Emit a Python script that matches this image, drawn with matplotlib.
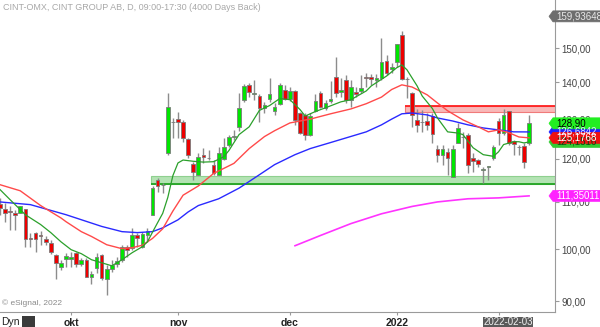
import matplotlib
matplotlib.use("Agg")
import matplotlib.pyplot as plt
from matplotlib.patches import Rectangle, Polygon
from matplotlib.ticker import FixedLocator, FuncFormatter, NullLocator
import numpy as np

plt.rcParams['font.family'] = ['Liberation Sans', 'DejaVu Sans']

# дневные свечи CINT (индекс -1 .. 103)
opens = [109.6, 108.5, 107.9, 107.6, 107.6, 108.5, 102.2, 103.4, 103.0, 102.1, 101.3,
         98.9, 96.5, 98.1, 98.1, 99.3, 97.1, 97.9, 94.6, 96.3, 98.9,
         94.2, 96.1, 97.1, 97.9, 100.5, 100.3, 103.0, 100.5, 103.0, 107.2,
         115.0, 113.9, 121.4, 129.3, 130.0, 129.3, 124.9, 118.8, 116.2, 121.0,
         120.3, 118.6, 116.2, 120.0, 123.5, 125.5, 128.0, 135.2, 139.3, 136.8,
         136.2, 133.0, 135.5, 132.2, 134.1, 137.9, 135.5, 137.6, 131.6, 131.1,
         126.0, 132.2, 137.1, 133.0, 134.9, 141.5, 137.3, 140.7, 135.2, 137.3,
         137.6, 141.5, 141.5, 140.7, 141.2, 146.2, 143.9, 145.8, 154.1, 141.0,
         137.1, 129.8, 129.3, 129.5, 130.8, 122.5, 120.8, 121.7, 115.7, 124.0,
         125.5, 126.0, 120.3, 119.8, 117.2, 118.1, 120.3, 129.5, 126.5, 132.2,
         124.5, 123.0, 123.2, 124.0]
highs = [110.9, 109.8, 109.0, 108.3, 109.2, 108.5, 103.4, 103.6, 103.8, 102.6, 101.9,
         99.1, 97.9, 99.3, 99.5, 99.5, 98.3, 98.3, 95.6, 99.3, 99.1,
         96.9, 97.9, 98.5, 100.9, 100.9, 104.4, 103.4, 103.6, 104.4, 113.5,
         115.5, 114.3, 137.1, 130.3, 132.0, 129.8, 125.2, 119.3, 121.4, 122.7,
         122.2, 119.8, 123.0, 125.2, 126.0, 127.2, 137.1, 139.6, 139.8, 140.7,
         136.8, 134.6, 141.3, 134.3, 139.8, 139.3, 138.7, 137.9, 131.9, 131.6,
         131.6, 136.8, 137.6, 135.2, 140.4, 147.4, 141.3, 142.1, 140.7, 138.7,
         142.1, 142.7, 142.4, 142.4, 153.1, 148.0, 145.6, 151.3, 155.3, 141.5,
         137.3, 132.7, 132.5, 131.6, 131.6, 123.5, 123.5, 122.7, 123.5, 129.0,
         126.7, 126.5, 121.4, 120.0, 118.1, 118.3, 123.5, 130.3, 132.7, 132.2,
         124.7, 123.5, 124.0, 131.1]
lows = [107.2, 105.7, 104.0, 104.0, 107.5, 100.5, 100.5, 99.5, 100.9, 100.9, 99.1,
        94.2, 95.9, 96.5, 96.5, 96.5, 96.7, 94.6, 93.3, 95.3, 94.0,
        91.2, 95.5, 96.5, 97.5, 98.5, 99.9, 100.5, 100.3, 101.5, 107.2,
        112.3, 112.1, 121.0, 125.2, 125.2, 124.2, 120.3, 115.0, 116.2, 119.1,
        119.8, 116.2, 116.2, 119.8, 123.0, 124.7, 127.0, 134.6, 136.0, 135.2,
        129.3, 131.6, 134.6, 131.1, 133.8, 135.2, 134.9, 128.5, 126.2, 124.7,
        125.7, 131.9, 133.0, 132.5, 134.3, 136.0, 136.0, 134.3, 133.3, 136.0,
        137.1, 138.7, 139.3, 138.7, 140.7, 142.1, 142.7, 144.4, 140.7, 135.7,
        128.0, 126.7, 126.7, 127.2, 124.0, 119.3, 118.6, 116.2, 115.7, 124.0,
        122.7, 116.7, 116.9, 118.1, 114.3, 115.0, 119.8, 123.5, 126.0, 123.5,
        121.0, 120.8, 117.9, 123.5]
closes = [108.7, 107.6, 107.8, 107.2, 109.0, 102.1, 102.1, 102.1, 102.6, 101.5, 99.5,
          97.3, 97.3, 98.7, 98.5, 97.1, 97.9, 94.6, 95.2, 98.5, 94.4,
          96.1, 96.9, 97.7, 100.5, 99.9, 103.0, 102.3, 103.2, 103.8, 113.2,
          113.5, 113.8, 133.3, 129.2, 129.3, 125.2, 121.0, 116.9, 120.5, 120.5,
          120.2, 116.7, 121.4, 123.0, 125.5, 125.6, 133.0, 139.0, 137.3, 136.9,
          133.0, 133.8, 136.8, 133.3, 139.3, 135.5, 137.6, 129.8, 126.5, 126.0,
          130.8, 134.9, 133.3, 134.3, 135.5, 137.1, 137.9, 135.2, 138.7, 136.8,
          138.4, 141.2, 141.0, 141.2, 145.9, 142.7, 144.4, 151.3, 141.0, 140.9,
          131.1, 128.5, 129.2, 128.5, 126.2, 120.8, 122.5, 120.3, 122.5, 127.7,
          125.4, 118.6, 119.5, 118.8, 117.6, 118.2, 123.0, 126.5, 131.1, 124.0,
          123.7, 122.9, 119.3, 128.9]
days = np.arange(-1, len(opens) - 1)

# скользящие средние (номер свечи, значение)
ma_green_x = [-1, 1, 3, 4, 7, 9, 11, 13, 15, 17, 19, 21, 23, 25, 27, 28, 29, 30, 31, 32, 33, 34, 35,
              37, 39, 41, 43, 44, 46, 48, 50, 52, 54, 56, 58, 59, 61, 63, 66, 68, 71, 72, 75, 77,
              78, 79, 81, 82, 84, 85, 87, 89, 90, 92, 94, 96, 97, 98, 100, 101, 102, 103]
ma_green_y = [112.8, 110.5, 108.3, 107.2, 105.1, 103.4, 101.5, 99.9, 99.1, 97.9, 97.3, 96.7, 97.9,
              99.3, 100.5, 101.5, 103.5, 105.5, 107.5, 111.0, 116.0, 119.0, 119.7,
              119.4, 119.2, 119.3, 120.5, 122.0, 126.0, 128.0, 132.3, 133.6, 135.5, 135.2, 132.5,
              130.8, 132.0, 133.0, 134.6, 135.2, 137.6, 139.0, 141.8, 144.2,
              145.0, 143.6, 139.0, 136.2, 132.8, 130.3, 126.7, 126.4, 126.0, 122.7, 121.0, 120.6,
              121.7, 123.5, 124.2, 124.2, 123.9, 124.15]
ma_red_x = [-1, 3, 7, 11, 12, 15, 17, 20, 23, 25, 27, 29, 31, 33, 35, 38, 41, 45, 48, 51, 53, 56,
            60, 64, 68, 71, 74, 76, 78, 80, 83, 85, 87, 90, 93, 95, 97, 99, 101, 103]
ma_red_y = [113.9, 112.5, 109.2, 106.5, 105.7, 103.6, 102.6, 100.9, 100.1, 100.3, 100.8, 102.2,
            104.2, 108.0, 111.5, 113.6, 116.5, 118.9, 122.5, 125.5, 127.0, 129.0,
            130.0, 131.4, 132.7, 134.1, 135.9, 138.0, 139.3, 138.7, 136.5, 134.3, 132.2, 129.8,
            128.0, 126.7, 127.2, 126.5, 125.4, 125.18]
ma_blue_x = [-1, 5, 12, 19, 23, 26, 29, 31, 34, 36, 38, 42, 46, 50, 53, 57, 60, 64, 71, 74, 76,
             78, 80, 83, 85, 88, 91, 94, 97, 100, 103]
ma_blue_y = [110.0, 109.4, 107.2, 104.7, 103.6, 103.4, 103.6, 104.4, 106.1, 107.8, 109.2, 110.7,
             113.1, 116.2, 118.6, 121.0, 122.5, 124.0, 126.7, 128.5, 130.0,
             131.4, 131.6, 131.1, 130.3, 129.5, 128.5, 127.7, 127.2, 126.7, 126.68]
ma_mag_x = [57, 62, 68, 74, 80, 85, 91, 97, 103]
ma_mag_y = [100.7, 102.8, 105.3, 107.4, 109.0, 110.0, 110.7, 110.9, 111.35]

# зоны поддержки и сопротивления
support_zone = (114.1, 116.0)
resist_zone = (131.9, 133.5)
support_start = 28.6
resist_start = 78.7

ytick_vals = [90, 100, 110, 120, 130, 140, 150]
xtick_days = [13, 34, 56, 77, 97]
xtick_labels = ['okt', 'nov', 'dec', '2022', '']

W, H = 600, 327
fig = plt.figure(figsize=(W / 100, H / 100), dpi=100)
ax = fig.add_axes([0, 15 / H, 555 / W, 312 / H])
ax.set_yscale('log')
ax.set_ylim(88.1, 165.3)
ax.set_xlim(-0.98, 108.1)

# зоны
x_end = 110
ax.add_patch(Rectangle((support_start, support_zone[0]), x_end - support_start,
                       support_zone[1] - support_zone[0], facecolor='#b3e3b3',
                       edgecolor='#8fd08f', lw=0.8, zorder=1))
ax.hlines(support_zone[0], support_start, x_end, color='#22a322', lw=1.3, zorder=1.5)
ax.add_patch(Rectangle((resist_start, resist_zone[0]), x_end - resist_start,
                       resist_zone[1] - resist_zone[0], facecolor='#f8b8b8',
                       edgecolor='#f07a7a', lw=0.8, zorder=1))
ax.hlines(resist_zone[1], resist_start, x_end, color='#ff2020', lw=1.3, zorder=1.5)

# свечи
o = np.array(opens)
c = np.array(closes)
up = c >= o
ax.vlines(days, lows, highs, color='#8c8c8c', lw=1.0, zorder=3)
body_lo = np.minimum(o, c)
body_h = np.maximum(np.abs(c - o), 0.08)
ax.bar(days[up], body_h[up], bottom=body_lo[up], width=0.72, color='#00e600',
       edgecolor='#7a7a7a', lw=0.6, zorder=3.5)
ax.bar(days[~up], body_h[~up], bottom=body_lo[~up], width=0.72, color='#ee0000',
       edgecolor='#7a7a7a', lw=0.6, zorder=3.5)

# средние
ax.plot(ma_mag_x, ma_mag_y, color='#ff33ff', lw=1.2, zorder=4)
ax.plot(ma_blue_x, ma_blue_y, color='#2a2aff', lw=1.0, zorder=4)
ax.plot(ma_red_x, ma_red_y, color='#ff4a4a', lw=1.0, zorder=4)
ax.plot(ma_green_x, ma_green_y, color='#2ba02b', lw=0.9, zorder=4)

# оси
for s in ['left', 'top']:
    ax.spines[s].set_visible(False)
for s in ['right', 'bottom']:
    ax.spines[s].set_color('#9a9a9a')
ax.yaxis.tick_right()
ax.yaxis.set_major_locator(FixedLocator(ytick_vals))
ax.yaxis.set_minor_locator(NullLocator())
ax.yaxis.set_major_formatter(FuncFormatter(lambda v, p: f"{v:.2f}".replace('.', ',')))
ax.tick_params(axis='y', length=3, pad=1.5, labelsize=7, colors='#9a9a9a', labelcolor='#444444')
ax.xaxis.set_major_locator(FixedLocator(xtick_days))
ax.set_xticklabels(xtick_labels, fontweight='bold')
ax.tick_params(axis='x', length=2.5, pad=1.5, labelsize=7.5, colors='#9a9a9a', labelcolor='#222222')


def tag(price, text, fc, tc):
    yd = ax.transData.transform((0, price))[1] / H
    hh = 5.5 / H
    pts = [(549 / W, yd), (553 / W, yd + hh), (1.0, yd + hh), (1.0, yd - hh), (553 / W, yd - hh)]
    fig.add_artist(Polygon(pts, closed=True, transform=fig.transFigure, facecolor=fc,
                           edgecolor=fc, lw=0.5))
    fig.text(556 / W, yd, text, fontsize=7, color=tc, va='center', ha='left')


tag(159.9364, '159,93648', '#6e6e6e', '#e8e8e8')
tag(124.1516, '124,1516', '#33cc33', '#114411')
tag(126.6842, '126,6842', '#2020ff', '#e0e0ff')
tag(125.1768, '125,1768', '#ee1111', '#ffffff')
tag(128.90, '128,90', '#22ee22', '#000000')
tag(111.35011, '111,35011', '#ff22ff', '#ffffff')

fig.text(3 / W, 1 - 8 / H, 'CINT-OMX, CINT GROUP AB, D, 09:00-17:30 (4000 Days Back)',
         fontsize=6.5, color='#a8a8a8', va='center', ha='left')
fig.text(2 / W, 1 - 303 / H, '\u00a9 eSignal, 2022', fontsize=6, color='#8a8a8a',
         va='center', ha='left')

# нижняя панель
fig.add_artist(Rectangle((483 / W, 0), 50 / W, 10 / H, transform=fig.transFigure,
                         facecolor='#5a5a5a', edgecolor='none'))
fig.text(508 / W, 5 / H, '2022-02-03', fontsize=7, color='#f0f0f0', va='center', ha='center')
fig.text(1 / W, 5 / H, 'Dyn', fontsize=7.5, color='#222222', va='center', ha='left')
fig.add_artist(Rectangle((22 / W, 0), 13 / W, 11 / H, transform=fig.transFigure,
                         facecolor='#3a3a3a', edgecolor='none'))

fig.savefig('out.png', dpi=100)
